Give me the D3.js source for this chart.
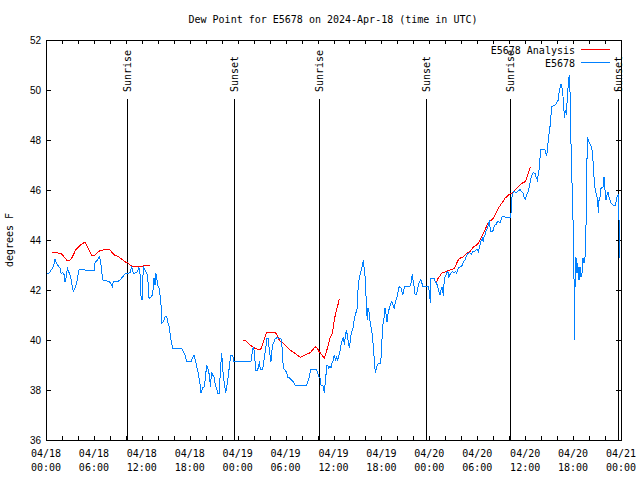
<!DOCTYPE html>
<html><head><meta charset="utf-8">
<script src="https://cdn.jsdelivr.net/npm/d3@7"></script>
<style>
body{margin:0;background:#fff;}
svg{display:block;font-family:"DejaVu Sans Mono","Liberation Mono",monospace;font-size:10px;}
</style></head><body>
<svg id="chart" width="640" height="480"></svg>
<script>
const chartTitle = "Dew Point for E5678 on 2024-Apr-18 (time in UTC)";
const yAxisLabel = "degrees F";
const seriesNames = ["E5678 Analysis", "E5678"];
const seriesColors = ["#ff0000", "#0080ff"];
const startTime = "2024-04-18T00:00:00Z";
const endTime = "2024-04-21T00:00:00Z";
const yTicks = [36, 38, 40, 42, 44, 46, 48, 50, 52];
// hours after start
const sunEvents = [["Sunrise", 10.2], ["Sunset", 23.6], ["Sunrise", 34.22], ["Sunset", 47.62], ["Sunrise", 58.14], ["Sunset", 71.6]];

// [hours after start, degF]
const stationSeries = [
[0.08,42.67],[0.38,42.67],[0.71,42.83],[0.92,42.93],[1.13,43.23],[1.34,43.07],[1.54,42.96],[1.75,42.87],[1.88,42.67],[2.09,42.69],
[2.25,42.63],[2.38,42.33],[2.50,42.47],[2.67,42.87],[2.92,42.67],[3.09,42.53],[3.21,42.27],[3.42,41.93],[3.63,42.07],[3.84,42.27],
[4.05,42.67],[4.17,42.83],[4.67,42.83],[5.09,42.77],[5.51,42.80],[6.01,42.77],[6.14,43.09],[6.43,43.20],[6.68,43.33],[6.85,43.13],
[7.10,42.40],[7.60,42.37],[7.93,42.33],[8.10,42.27],[8.31,42.13],[8.43,42.33],[8.93,42.33],[9.27,42.40],[9.60,42.53],[9.89,42.64],
[10.18,42.67],[10.52,42.69],[10.73,42.93],[10.94,42.67],[11.27,42.69],[11.48,42.73],[11.60,42.93],[11.77,42.67],[11.90,41.73],[12.02,41.60],
[12.19,42.93],[12.40,42.80],[12.61,42.67],[12.73,42.53],[12.90,41.67],[13.23,41.73],[13.36,41.87],[13.44,42.13],[13.52,42.47],[13.65,42.20],
[13.73,42.67],[13.86,42.53],[13.98,42.20],[14.15,42.07],[14.28,41.80],[14.40,41.40],[14.48,40.67],[14.69,40.73],[14.90,40.93],[15.11,40.93],
[15.24,40.73],[15.44,40.53],[15.53,40.27],[15.65,40.00],[15.78,39.80],[15.86,39.67],[16.99,39.67],[17.20,39.53],[17.41,39.40],[17.61,39.13],
[18.16,39.13],[18.32,39.27],[18.53,39.40],[18.70,39.20],[18.87,38.93],[19.07,38.67],[19.28,38.27],[19.41,37.87],[19.62,38.09],[19.83,38.13],
[19.95,38.47],[20.12,39.00],[20.33,38.80],[20.45,38.60],[20.54,38.33],[20.62,38.13],[20.70,38.73],[20.87,38.60],[21.04,38.53],[21.20,38.20],
[21.37,38.07],[21.50,37.87],[21.70,37.87],[21.83,38.73],[22.00,39.47],[22.16,38.73],[22.33,38.27],[22.50,37.87],[22.71,38.27],[22.83,38.60],
[22.96,38.93],[23.12,39.40],[23.37,39.40],[23.54,39.13],[24.29,39.13],[25.67,39.16],[25.84,39.53],[25.96,39.73],[26.09,39.53],[26.17,39.16],
[26.25,38.80],[26.51,38.80],[26.63,39.00],[26.71,39.07],[26.84,38.83],[27.01,38.80],[27.13,38.83],[27.21,39.00],[27.34,39.27],[27.55,39.76],
[27.63,40.07],[27.84,40.07],[27.97,39.53],[28.09,39.33],[28.17,39.13],[28.26,39.47],[28.38,39.80],[28.55,39.93],[28.68,40.03],[28.88,40.09],
[29.30,40.07],[29.43,40.03],[29.55,39.73],[29.64,39.27],[29.72,38.87],[29.93,38.80],[30.14,38.69],[30.26,38.51],[30.55,38.47],[30.76,38.40],
[30.97,38.33],[31.18,38.20],[32.64,38.20],[32.77,38.33],[32.93,38.47],[33.06,38.67],[33.18,38.83],[33.68,38.83],[33.89,38.80],[34.02,38.67],
[34.14,38.53],[34.31,38.47],[34.44,38.20],[34.60,38.20],[34.73,38.13],[34.85,37.87],[34.98,38.33],[35.06,38.60],[35.14,39.00],[35.27,39.00],
[35.40,38.87],[35.56,38.96],[35.69,38.87],[35.81,39.07],[35.98,39.20],[36.10,39.40],[36.23,39.20],[36.40,39.31],[36.52,39.20],[36.65,39.36],
[36.81,39.53],[36.94,39.80],[37.11,40.00],[37.23,40.13],[37.36,39.80],[37.48,40.13],[37.61,40.40],[37.73,40.20],[37.86,39.93],[37.98,39.67],
[38.19,40.20],[38.36,40.40],[38.48,40.53],[38.61,40.87],[38.78,41.07],[38.94,41.20],[39.03,41.73],[39.11,42.27],[39.24,42.47],[39.36,42.67],
[39.49,42.80],[39.61,43.00],[39.74,43.20],[39.82,42.93],[39.95,42.53],[40.03,42.13],[40.15,41.13],[40.24,40.80],[40.32,41.27],[40.45,41.13],
[40.53,40.93],[40.61,40.60],[40.70,40.53],[40.82,40.27],[40.91,40.07],[40.99,39.67],[41.11,39.20],[41.24,38.67],[41.36,38.87],[41.49,39.00],
[41.61,39.07],[41.91,39.07],[42.03,39.73],[42.16,40.60],[42.28,40.73],[42.37,41.00],[42.45,41.27],[42.57,41.07],[42.70,40.73],[42.78,40.93],
[42.91,41.20],[43.03,41.27],[43.16,41.47],[43.28,41.53],[43.41,41.47],[43.49,41.33],[43.62,41.27],[43.70,41.44],[43.83,41.60],[43.95,41.73],
[44.08,41.93],[44.20,42.11],[44.33,42.13],[44.45,42.07],[44.54,42.00],[44.66,41.80],[44.79,41.93],[44.87,42.16],[45.58,42.16],[45.71,42.27],
[45.79,42.43],[45.87,42.64],[46.00,42.27],[46.12,42.13],[46.21,41.84],[46.42,41.84],[46.54,42.07],[46.71,42.27],[46.92,42.40],[47.04,42.33],
[47.12,42.20],[47.21,42.13],[47.37,42.16],[47.87,42.13],[48.00,41.93],[48.13,41.49],[48.21,42.47],[48.59,42.47],[48.75,42.33],[48.92,42.27],
[49.04,42.13],[49.21,41.93],[49.34,41.80],[49.46,42.00],[49.59,42.11],[49.67,42.00],[49.75,41.76],[49.88,42.47],[50.00,42.53],[50.17,42.69],
[50.34,42.73],[50.42,42.47],[50.55,42.60],[50.71,42.67],[50.88,42.73],[51.13,42.71],[51.34,42.73],[51.42,42.67],[51.63,42.87],[51.84,42.93],
[52.05,42.93],[52.17,43.07],[52.30,43.13],[52.47,43.20],[52.59,43.31],[52.76,43.44],[52.97,43.49],[53.09,43.49],[53.30,43.44],[53.43,43.53],
[53.64,43.53],[53.84,43.60],[54.01,43.63],[54.14,43.53],[54.26,43.67],[54.39,43.87],[54.51,44.00],[54.64,44.07],[54.76,43.93],[54.85,44.13],
[54.97,44.20],[55.05,44.33],[55.18,44.40],[55.31,44.53],[55.43,44.67],[55.51,44.73],[55.60,44.53],[55.72,44.33],[55.93,44.33],[56.10,44.53],
[56.27,44.64],[56.39,44.64],[56.52,44.73],[56.68,44.73],[56.85,44.69],[56.97,44.80],[57.10,44.93],[57.27,44.93],[57.68,44.91],[58.19,44.91],
[58.27,45.27],[58.35,45.73],[58.52,45.93],[58.73,45.93],[58.85,45.89],[59.02,45.93],[59.19,45.97],[59.35,46.03],[59.56,45.93],[59.77,45.87],
[59.90,45.67],[60.02,45.63],[60.19,45.80],[60.36,45.93],[60.52,46.13],[60.69,46.43],[60.86,46.60],[61.02,46.69],[61.23,46.67],[61.36,46.53],
[61.53,46.40],[61.73,46.80],[61.86,47.27],[61.94,47.63],[62.27,47.63],[62.48,47.60],[62.57,47.47],[62.69,47.36],[62.82,47.73],[62.94,48.13],
[63.07,48.40],[63.19,48.80],[63.32,49.33],[63.53,49.36],[63.74,49.40],[63.95,49.49],[64.15,49.60],[64.24,49.87],[64.36,50.07],[64.49,50.24],
[64.57,50.20],[64.70,49.87],[64.82,49.47],[64.91,48.87],[65.03,49.20],[65.16,49.00],[65.28,49.73],[65.41,50.27],[65.45,50.47],[65.53,50.60],
[65.62,49.87],[65.70,48.33],[65.82,46.80],[65.95,45.33],[66.07,43.73],[66.12,42.33],[66.20,40.00],[66.24,42.13],[66.32,43.33],[66.41,43.20],
[66.49,42.67],[66.57,43.07],[66.66,42.80],[66.74,42.40],[66.87,42.93],[66.99,42.53],[67.12,42.67],[67.24,43.27],[67.37,43.07],[67.49,43.33],
[67.58,43.47],[67.66,45.73],[67.79,48.07],[67.91,48.00],[68.04,47.89],[68.16,47.80],[68.33,47.73],[68.45,47.33],[68.58,46.80],[68.66,46.27],
[68.79,46.00],[68.91,45.80],[69.00,45.73],[69.08,45.60],[69.16,45.07],[69.25,45.60],[69.37,45.73],[69.50,46.07],[69.75,46.13],[69.87,46.51],
[69.96,46.27],[70.04,45.73],[70.12,45.60],[70.25,45.80],[70.38,45.93],[70.50,45.73],[70.63,45.60],[70.75,45.47],[71.04,45.40],[71.25,45.36],
[71.38,45.53],[71.50,45.73],[71.63,45.80],[71.71,45.33],[71.79,44.27],[71.87,43.27]
];

// null value = gap in the analysis line
const analysisSeries = [
[0.79,43.51],[1.34,43.49],[1.75,43.47],[1.96,43.44],[2.17,43.36],[2.38,43.27],[2.59,43.20],[3.01,43.20],[3.21,43.27],[3.42,43.40],
[3.71,43.60],[4.05,43.71],[4.34,43.80],[4.67,43.87],[4.88,43.92],[5.09,43.80],[5.30,43.67],[5.51,43.53],[5.72,43.40],[6.14,43.40],
[6.34,43.47],[6.55,43.53],[6.76,43.57],[7.18,43.60],[7.60,43.64],[7.93,43.63],[8.10,43.57],[8.35,43.47],[8.64,43.37],[8.93,43.36],
[9.18,43.31],[9.48,43.23],[9.77,43.16],[10.02,43.11],[10.31,43.07],[10.52,43.00],[10.73,42.96],[12.19,42.96],[12.40,43.00],[13.02,43.00],
[18.0,null],
[24.63,40.00],[24.92,40.00],[25.13,39.93],[25.34,39.87],[25.55,39.80],[25.88,39.73],[26.17,39.67],[26.46,39.63],[26.71,39.60],[26.88,39.63],
[27.01,39.73],[27.21,39.93],[27.42,40.13],[27.63,40.29],[28.26,40.31],[28.55,40.31],[28.80,40.27],[28.97,40.16],[29.09,40.07],[29.30,39.96],
[29.72,39.87],[30.14,39.73],[30.55,39.60],[30.85,39.53],[31.18,39.47],[31.60,39.36],[31.89,39.31],[32.14,39.36],[32.43,39.40],[32.72,39.44],
[32.97,39.47],[33.18,39.53],[33.39,39.60],[33.56,39.67],[33.77,39.73],[33.98,39.67],[34.19,39.53],[34.39,39.47],[34.64,39.36],[34.85,39.27],
[35.06,39.47],[35.23,39.67],[35.40,39.87],[35.56,40.07],[35.77,40.20],[35.90,40.33],[35.98,40.53],[36.10,40.80],[36.23,41.00],[36.31,41.13],
[36.48,41.33],[36.61,41.47],[36.69,41.60],[36.81,41.64],
[42.0,null],
[48.84,42.29],[49.00,42.40],[49.17,42.51],[49.34,42.57],[49.50,42.67],[49.88,42.71],[50.30,42.77],[50.92,42.83],[51.13,42.87],[51.26,42.93],
[51.42,43.07],[51.63,43.20],[51.84,43.27],[52.26,43.33],[52.47,43.40],[52.68,43.47],[53.09,43.53],[53.30,43.63],[53.51,43.71],[53.72,43.77],
[53.93,43.80],[54.14,43.87],[54.35,44.00],[54.56,44.13],[54.76,44.27],[54.97,44.40],[55.18,44.56],[55.39,44.69],[55.60,44.77],[55.81,44.80],
[56.01,44.87],[56.22,45.00],[56.43,45.13],[56.64,45.27],[56.85,45.36],[57.06,45.47],[57.27,45.56],[57.48,45.67],[57.68,45.73],[57.89,45.80],
[58.31,45.87],[58.52,45.93],[58.73,46.00],[58.94,46.07],[59.15,46.13],[59.35,46.20],[59.56,46.27],[59.77,46.29],[59.98,46.33],[60.19,46.47],
[60.40,46.67],[60.61,46.87],[60.77,46.93]
];

const svg = d3.select("#chart");
const L = 46, R = 621, T = 40, B = 440;
const t0 = new Date(startTime), t1 = new Date(endTime);
const toDate = h => new Date(t0.getTime() + h * 3600e3);
const x = d3.scaleUtc().domain([t0, t1]).range([L, R]);
const y = d3.scaleLinear().domain([36, 52]).range([B, T]);

svg.append("rect").attr("width", 640).attr("height", 480).attr("fill", "#fff");

// title
svg.append("text").attr("x", 333).attr("y", 23).attr("text-anchor", "middle").attr("fill", "#000").text(chartTitle);

// y label
svg.append("text").attr("transform", "translate(13,240) rotate(-90)").attr("text-anchor", "middle").attr("fill", "#000").text(yAxisLabel);

// axes
const xTickVals = d3.utcHour.every(2).range(t0, d3.utcHour.offset(t1, 1));
const fmtDate = d3.utcFormat("%m/%d"), fmtTime = d3.utcFormat("%H:%M");
const gxb = svg.append("g").attr("transform", `translate(0,${B})`)
  .call(d3.axisBottom(x).tickValues(xTickVals).tickSizeInner(-4).tickSizeOuter(0).tickFormat(""));
const gxt = svg.append("g").attr("transform", `translate(0,${T})`)
  .call(d3.axisTop(x).tickValues(xTickVals).tickSizeInner(-4).tickSizeOuter(0).tickFormat(""));
const gyl = svg.append("g").attr("transform", `translate(${L},0)`)
  .call(d3.axisLeft(y).tickValues(yTicks).tickSizeInner(-5).tickSizeOuter(0).tickPadding(5).tickFormat(d3.format("d")));
const gyr = svg.append("g").attr("transform", `translate(${R},0)`)
  .call(d3.axisRight(y).tickValues(yTicks).tickSizeInner(-5).tickSizeOuter(0).tickFormat(""));
[gxb, gxt, gyl, gyr].forEach(g => {
  g.select(".domain").remove();
  g.selectAll("line").attr("stroke", "#000").attr("shape-rendering", "crispEdges");
  g.selectAll("text").attr("font-family", null).attr("font-size", null).attr("fill", "#000");
});
gyl.selectAll("text").attr("dy", "0.35em");

// x labels (two lines, every 6 hours)
const labelTicks = d3.utcHour.every(6).range(t0, d3.utcHour.offset(t1, 1));
const xl = svg.append("g").selectAll("text").data(labelTicks).join("text")
  .attr("text-anchor", "middle").attr("fill", "#000");
xl.append("tspan").attr("x", d => x(d)).attr("y", 457).text(d => fmtDate(d));
xl.append("tspan").attr("x", d => x(d)).attr("y", 471).text(d => fmtTime(d));

// frame
svg.append("rect").attr("x", L + 0.5).attr("y", T + 0.5).attr("width", R - L).attr("height", B - T)
  .attr("fill", "none").attr("stroke", "#000").attr("shape-rendering", "crispEdges");

// sunrise / sunset
const sg = svg.append("g").selectAll("g").data(sunEvents).join("g");
sg.append("line").attr("x1", d => Math.round(x(toDate(d[1]))) + 0.5).attr("x2", d => Math.round(x(toDate(d[1]))) + 0.5)
  .attr("y1", 99).attr("y2", B).attr("stroke", "#000").attr("shape-rendering", "crispEdges");
sg.append("text").attr("transform", d => `translate(${Math.round(x(toDate(d[1])))},92) rotate(-90)`)
  .attr("dy", "0.35em").attr("text-anchor", "start").attr("fill", "#000").text(d => d[0]);

// lines
const line = d3.line().defined(d => d[1] !== null).x(d => x(toDate(d[0]))).y(d => y(d[1]));
const plot = svg.append("g");
plot.append("path").datum(analysisSeries).attr("d", line).attr("fill", "none")
  .attr("stroke", seriesColors[0]).attr("stroke-width", 1).attr("shape-rendering", "crispEdges");
plot.append("path").datum(stationSeries).attr("d", line).attr("fill", "none")
  .attr("stroke", seriesColors[1]).attr("stroke-width", 1).attr("shape-rendering", "crispEdges");

// legend
const lg = svg.append("g").selectAll("g").data(seriesNames).join("g")
  .attr("transform", (d, i) => `translate(0,${50 + i * 13})`);
lg.append("text").attr("x", 575).attr("dy", "0.35em").attr("text-anchor", "end").attr("fill", "#000").text(d => d);
lg.append("line").attr("x1", 581).attr("x2", 610).attr("y1", -0.5).attr("y2", -0.5)
  .attr("stroke", (d, i) => seriesColors[i]).attr("shape-rendering", "crispEdges");
</script>
</body></html>
